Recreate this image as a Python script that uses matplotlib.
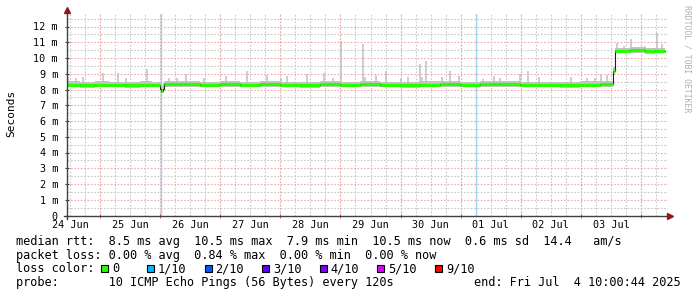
import numpy as np
import matplotlib
matplotlib.use("Agg")
import matplotlib.pyplot as plt

W, H = 697, 297
MONO = "DejaVu Sans Mono"

# hours since graph start (24 Jun 10:00:44), median rtt in ms
med_hours = [0.0, 5.2, 11.2, 17.2, 23.2, 29.2, 33.9, 37.1, 37.7, 38.5, 38.9,
             45.1, 53.1, 61.1, 69.1, 77.1, 85.1, 93.1, 101.0, 109.0, 117.0,
             125.0, 133.0, 141.0, 149.0, 156.9, 164.9, 172.9, 180.9, 188.9, 196.9,
             204.9, 212.9, 218.2, 218.8, 224.8, 230.8, 234.8, 238.8]
med_ms = [8.30, 8.28, 8.31, 8.29, 8.27, 8.31, 8.30, 8.03, 7.90, 8.05, 8.33,
          8.35, 8.31, 8.33, 8.30, 8.33, 8.31, 8.29, 8.32, 8.30, 8.33,
          8.31, 8.29, 8.31, 8.33, 8.30, 8.34, 8.32, 8.30, 8.31, 8.29,
          8.31, 8.33, 9.15, 10.45, 10.48, 10.44, 10.47, 10.47]
med_loss = [0, 0, 0, 0, 0, 0, 0, 1, 0, 1, 0,
            0, 0, 0, 0, 0, 0, 0, 0, 0, 0,
            0, 0, 0, 0, 0, 0, 0, 0, 0, 0,
            0, 0, 0, 0, 0, 0, 0, 0]
smoke_lo = [8.13, 8.12, 8.15, 8.13, 8.12, 8.14, 8.13, 7.98, 7.84, 7.98, 8.15,
            8.16, 8.14, 8.15, 8.13, 8.16, 8.14, 8.12, 8.15, 8.13, 8.16,
            8.14, 8.12, 8.14, 8.16, 8.13, 8.17, 8.15, 8.13, 8.14, 8.12,
            8.14, 8.16, 9.00, 10.30, 10.32, 10.28, 10.31, 10.31]
smoke_hi = [8.55, 8.50, 8.52, 8.48, 8.50, 8.56, 8.50, 8.45, 8.20, 8.40, 8.52,
            8.55, 8.50, 8.53, 8.48, 8.52, 8.50, 8.47, 8.52, 8.49, 8.53,
            8.50, 8.48, 8.51, 8.55, 8.50, 8.56, 8.52, 8.49, 8.50, 8.48,
            8.52, 8.55, 9.40, 10.65, 10.68, 10.62, 10.66, 10.66]

# single ping outliers (smoke spikes)
spike_hours = [0.4, 3.6, 6.4, 14.3, 20.4, 23.6, 31.8, 40.7, 43.9, 47.7,
               54.7, 63.5, 71.8, 79.9, 85.3, 87.9, 95.7, 102.6, 106.2, 109.3,
               118.2, 119.0, 123.4, 127.4, 133.4, 136.2, 140.9, 141.8, 143.5, 149.8,
               153.1, 156.4, 166.1, 170.5, 172.9, 180.9, 184.0, 188.5, 201.2, 207.7,
               210.7, 213.1, 215.8, 219.6, 222.4, 225.4, 230.8, 235.5, 237.8]
spike_ms = [8.8, 8.75, 8.8, 9.05, 9.05, 8.75, 9.3, 8.75, 8.75, 8.96,
            8.75, 8.85, 9.17, 8.9, 8.75, 8.85, 8.96, 9.07, 8.75, 11.08,
            10.9, 8.8, 8.9, 9.15, 8.75, 8.8, 9.64, 8.8, 9.8, 8.8,
            9.17, 8.85, 8.65, 8.85, 8.7, 8.96, 9.17, 8.8, 8.8, 8.7,
            8.7, 8.96, 8.9, 10.93, 10.75, 11.2, 10.75, 11.57, 10.9]

event_hours = [37.5, 163.3]

day_labels = ["24 Jun", "25 Jun", "26 Jun", "27 Jun", "28 Jun",
              "29 Jun", "30 Jun", "01 Jul", "02 Jul", "03 Jul"]
y_values = list(range(13))
y_labels = ["0"] + [f"{v} m" for v in y_values[1:]]

loss_names = ["0", "1/10", "2/10", "3/10", "4/10", "5/10", "9/10"]
loss_colors = ["#26ff00", "#00b8ff", "#0059ff", "#5e00ff", "#7e00ff", "#dd00ff", "#ff0000"]

legend_lines = [
    "median rtt:  8.5 ms avg  10.5 ms max  7.9 ms min  10.5 ms now  0.6 ms sd  14.4   am/s",
    "packet loss: 0.00 % avg  0.84 % max  0.00 % min  0.00 % now",
]
probe_text = "probe:       10 ICMP Echo Pings (56 Bytes) every 120s"
end_text = "end: Fri Jul  4 10:00:44 2025"

# ---------------------------------------------------------------------------
fig = plt.figure(figsize=(W / 100, H / 100), dpi=100)
x0, x1, ytop, ybot = 67, 668, 14, 215.5
ax = fig.add_axes([x0 / W, 1 - ybot / H, (x1 - x0) / W, (ybot - ytop) / H])
ax.set_xlim(0, 240)
ax.set_ylim(0, (ybot - ytop) / 15.75)
for s in ax.spines.values():
    s.set_visible(False)

# grid
minor_col, major_col = "#c8c8c8", "#eeaaaa"
dots = (0, (1.5, 1.5))
for h in np.arange(1.2, 240, 6):
    ax.axvline(h, color=minor_col, lw=0.8, ls=dots, zorder=0)
for h in np.arange(13.2, 240, 24):
    ax.axvline(h, color=major_col, lw=0.8, ls=dots, zorder=0)
for v in np.arange(0.5, 12.6, 1.0):
    ax.axhline(v, color=minor_col, lw=0.8, ls=dots, zorder=0)
for v in y_values[1:]:
    ax.axhline(v, color=major_col, lw=0.8, ls=dots, zorder=0)

for h in event_hours:
    ax.axvline(h, color="#9ed3f0", lw=1.0, zorder=1)

# smoke
t = np.array(med_hours)
v = np.array(med_ms)
ax.fill_between(t, smoke_lo, smoke_hi, step="post", color="#c4c4c4", lw=0, zorder=2)
base = v[np.searchsorted(t, spike_hours, side="right") - 1]
ax.vlines(spike_hours, base, spike_ms, color="#c0c0c0", lw=1.1, zorder=2)

# median: black step line, loss-coloured thick segments
ax.step(t, v, where="post", color="#202020", lw=0.8, zorder=3)
for i in range(len(t) - 1):
    if med_loss[i] == 0:
        ax.hlines(v[i], t[i], t[i + 1], color=loss_colors[0], lw=2.3,
                  zorder=4, capstyle="butt")

# axes, ticks, arrows
ax.set_xticks(np.arange(1.2, 240, 24), day_labels)
ax.set_xticks(np.arange(13.2, 240, 24), minor=True)
ax.tick_params(axis="x", which="major", length=0, pad=3.5)
ax.tick_params(axis="x", which="minor", length=3, direction="inout", color="#c03030")
ax.set_yticks(y_values, y_labels)
ax.tick_params(axis="y", length=3, direction="inout", color="#404040", pad=5)
for lab in ax.get_xticklabels() + ax.get_yticklabels():
    lab.set_fontfamily(MONO)
    lab.set_fontsize(7.3)
    lab.set_color("#000000")

ax.plot([-0.005, 1.003], [0, 0], transform=ax.transAxes, color="#404040",
        lw=1, clip_on=False, zorder=5)
ax.plot([0, 0], [-0.015, 1.015], transform=ax.transAxes, color="#404040",
        lw=1, clip_on=False, zorder=5)
ax.plot(1.004, 0, marker=">", ms=4, color="#8c1c1c", transform=ax.transAxes,
        clip_on=False, zorder=6)
ax.plot(0, 1.02, marker="^", ms=4, color="#8c1c1c", transform=ax.transAxes,
        clip_on=False, zorder=6)

def fx(px):
    return px / W

def fy(py):
    return 1 - py / H

fig.text(fx(11), fy(113.5), "Seconds", rotation=90, ha="center", va="center",
         family=MONO, fontsize=8)
fig.text(fx(687), fy(5), "RRDTOOL / TOBI OETIKER", rotation=270, ha="center",
         va="top", family=MONO, fontsize=5.9, color="#b0b0b0")

fs = 8.55
for line, py in zip(legend_lines, [241, 255]):
    fig.text(fx(16), fy(py), line, ha="left", va="center", family=MONO, fontsize=fs)
fig.text(fx(16), fy(268.5), "loss color:", ha="left", va="center", family=MONO, fontsize=fs)
sq_x = [101, 147, 204.5, 262, 319.5, 377, 435]
for sx, name, col in zip(sq_x, loss_names, loss_colors):
    fig.patches.append(plt.Rectangle((fx(sx), fy(272)), 7 / W, 7 / H,
                                     transform=fig.transFigure, facecolor=col,
                                     edgecolor="black", lw=0.8))
    fig.text(fx(sx + 11), fy(268.5), name, ha="left", va="center", family=MONO, fontsize=fs)
fig.text(fx(16), fy(282.5), probe_text, ha="left", va="center", family=MONO, fontsize=fs)
fig.text(fx(681), fy(282.5), end_text, ha="right", va="center", family=MONO, fontsize=fs)

fig.savefig("out.png", dpi=100, facecolor="white")
